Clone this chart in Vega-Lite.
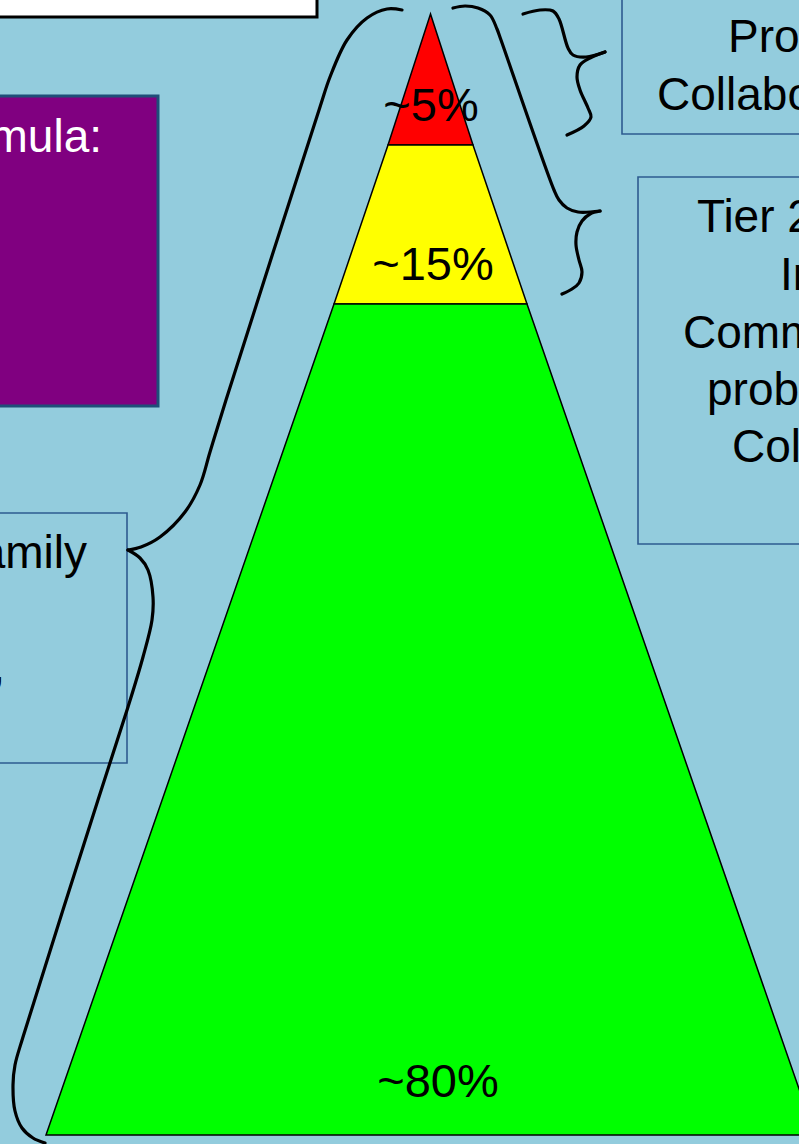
{
  "$schema": "https://vega.github.io/schema/vega-lite/v6.json",
  "width": 799,
  "height": 1144,
  "padding": 0,
  "autosize": {"type": "none"},
  "background": "#93CCDD",
  "config": {"view": {"stroke": null}},
  "datasets": {
    "boxes": [
      {"id": "white", "x1": -10, "x2": 317, "y1": -10, "y2": 17, "fill": "#FFFFFF", "stroke": "#000000", "sw": 3},
      {"id": "purple", "x1": -10, "x2": 158, "y1": 96, "y2": 406, "fill": "#800080", "stroke": "#1F4E79", "sw": 3},
      {"id": "tier1", "x1": -10, "x2": 127, "y1": 513, "y2": 763, "fill": "#93CCDD", "stroke": "#2E5B90", "sw": 1.6},
      {"id": "tier3", "x1": 622, "x2": 830, "y1": -10, "y2": 134, "fill": "#93CCDD", "stroke": "#2E5B90", "sw": 1.6},
      {"id": "tier2", "x1": 638, "x2": 830, "y1": 177, "y2": 544, "fill": "#93CCDD", "stroke": "#2E5B90", "sw": 1.6}
    ],
    "pyramid": [
      {"seg": "a_red", "y": 14, "xl": 430.5, "xr": 430.5, "fill": "#FF0000"},
      {"seg": "a_red", "y": 145, "xl": 388, "xr": 473, "fill": "#FF0000"},
      {"seg": "b_yellow", "y": 145, "xl": 388, "xr": 473, "fill": "#FFFF00"},
      {"seg": "b_yellow", "y": 304, "xl": 334, "xr": 527, "fill": "#FFFF00"},
      {"seg": "c_green", "y": 304, "xl": 334, "xr": 527, "fill": "#00FF00"},
      {"seg": "c_green", "y": 1135, "xl": 46, "xr": 815, "fill": "#00FF00"}
    ],
    "braces": [
      {"b": "b1a", "i": 0, "x": 402, "y": 10},
      {"b": "b1a", "i": 1, "x": 387, "y": 9},
      {"b": "b1a", "i": 2, "x": 367, "y": 18},
      {"b": "b1a", "i": 3, "x": 347, "y": 40},
      {"b": "b1a", "i": 4, "x": 330, "y": 77},
      {"b": "b1a", "i": 5, "x": 320, "y": 107},
      {"b": "b1a", "i": 6, "x": 226, "y": 400},
      {"b": "b1a", "i": 7, "x": 210, "y": 452},
      {"b": "b1a", "i": 8, "x": 200, "y": 485},
      {"b": "b1a", "i": 9, "x": 185, "y": 512},
      {"b": "b1a", "i": 10, "x": 160, "y": 537},
      {"b": "b1a", "i": 11, "x": 141, "y": 547},
      {"b": "b1a", "i": 12, "x": 128, "y": 550},
      {"b": "b1b", "i": 0, "x": 128, "y": 550},
      {"b": "b1b", "i": 1, "x": 140, "y": 558},
      {"b": "b1b", "i": 2, "x": 148, "y": 570},
      {"b": "b1b", "i": 3, "x": 153, "y": 597},
      {"b": "b1b", "i": 4, "x": 152, "y": 620},
      {"b": "b1b", "i": 5, "x": 143, "y": 657},
      {"b": "b1b", "i": 6, "x": 128, "y": 707},
      {"b": "b1b", "i": 7, "x": 98, "y": 800},
      {"b": "b1b", "i": 8, "x": 23, "y": 1037},
      {"b": "b1b", "i": 9, "x": 15, "y": 1065},
      {"b": "b1b", "i": 10, "x": 13, "y": 1085},
      {"b": "b1b", "i": 11, "x": 15, "y": 1111},
      {"b": "b1b", "i": 12, "x": 22, "y": 1128},
      {"b": "b1b", "i": 13, "x": 33, "y": 1138},
      {"b": "b1b", "i": 14, "x": 45, "y": 1143},
      {"b": "b2a", "i": 0, "x": 453, "y": 8},
      {"b": "b2a", "i": 1, "x": 465, "y": 6},
      {"b": "b2a", "i": 2, "x": 478, "y": 8},
      {"b": "b2a", "i": 3, "x": 490, "y": 15},
      {"b": "b2a", "i": 4, "x": 497, "y": 29},
      {"b": "b2a", "i": 5, "x": 501, "y": 40},
      {"b": "b2a", "i": 6, "x": 554, "y": 190},
      {"b": "b2a", "i": 7, "x": 559, "y": 200},
      {"b": "b2a", "i": 8, "x": 567, "y": 208},
      {"b": "b2a", "i": 9, "x": 578, "y": 212},
      {"b": "b2a", "i": 10, "x": 600, "y": 211},
      {"b": "b2b", "i": 0, "x": 600, "y": 211},
      {"b": "b2b", "i": 1, "x": 590, "y": 214},
      {"b": "b2b", "i": 2, "x": 582, "y": 221},
      {"b": "b2b", "i": 3, "x": 577, "y": 232},
      {"b": "b2b", "i": 4, "x": 576, "y": 245},
      {"b": "b2b", "i": 5, "x": 579, "y": 260},
      {"b": "b2b", "i": 6, "x": 582, "y": 272},
      {"b": "b2b", "i": 7, "x": 579, "y": 283},
      {"b": "b2b", "i": 8, "x": 572, "y": 289},
      {"b": "b2b", "i": 9, "x": 562, "y": 294},
      {"b": "b3a", "i": 0, "x": 523, "y": 14},
      {"b": "b3a", "i": 1, "x": 540, "y": 10},
      {"b": "b3a", "i": 2, "x": 553, "y": 11},
      {"b": "b3a", "i": 3, "x": 559, "y": 19},
      {"b": "b3a", "i": 4, "x": 568, "y": 48},
      {"b": "b3a", "i": 5, "x": 573, "y": 55},
      {"b": "b3a", "i": 6, "x": 586, "y": 57},
      {"b": "b3a", "i": 7, "x": 605, "y": 52},
      {"b": "b3b", "i": 0, "x": 605, "y": 52},
      {"b": "b3b", "i": 1, "x": 590, "y": 58},
      {"b": "b3b", "i": 2, "x": 580, "y": 65},
      {"b": "b3b", "i": 3, "x": 577, "y": 77},
      {"b": "b3b", "i": 4, "x": 580, "y": 90},
      {"b": "b3b", "i": 5, "x": 588, "y": 108},
      {"b": "b3b", "i": 6, "x": 591, "y": 117},
      {"b": "b3b", "i": 7, "x": 584, "y": 126},
      {"b": "b3b", "i": 8, "x": 567, "y": 135}
    ],
    "texts": [
      {"t": "~5%", "x": 431, "y": 121, "al": "center", "col": "#000000"},
      {"t": "~15%", "x": 433, "y": 280, "al": "center", "col": "#000000"},
      {"t": "~80%", "x": 438, "y": 1097, "al": "center", "col": "#000000"},
      {"t": "Formula:", "x": 102, "y": 152, "al": "right", "col": "#FFFFFF"},
      {"t": "Tier 1: Family", "x": 87, "y": 568, "al": "right", "col": "#000000"},
      {"t": "Universal", "x": -20, "y": 625, "al": "right", "col": "#000000"},
      {"t": "school,", "x": 5, "y": 682, "al": "right", "col": "#000000"},
      {"t": "Problem Solving", "x": 728, "y": 52, "al": "left", "col": "#000000"},
      {"t": "Collaboration", "x": 657, "y": 110, "al": "left", "col": "#000000"},
      {"t": "Tier 2: Targeted", "x": 697, "y": 232, "al": "left", "col": "#000000"},
      {"t": "Interventions", "x": 780, "y": 290, "al": "left", "col": "#000000"},
      {"t": "Community", "x": 683, "y": 348, "al": "left", "col": "#000000"},
      {"t": "problem solving", "x": 707, "y": 405, "al": "left", "col": "#000000"},
      {"t": "Collaboration", "x": 732, "y": 462, "al": "left", "col": "#000000"}
    ]
  },
  "layer": [
    {
      "data": {"name": "boxes"},
      "mark": {"type": "rect"},
      "encoding": {
        "x": {"field": "x1", "type": "quantitative", "scale": {"domain": [0, 799], "nice": false, "zero": false}, "axis": null},
        "x2": {"field": "x2"},
        "y": {"field": "y1", "type": "quantitative", "scale": {"domain": [0, 1144], "nice": false, "zero": false, "reverse": true}, "axis": null},
        "y2": {"field": "y2"},
        "fill": {"field": "fill", "type": "nominal", "scale": null},
        "stroke": {"field": "stroke", "type": "nominal", "scale": null},
        "strokeWidth": {"field": "sw", "type": "quantitative", "scale": null}
      }
    },
    {
      "data": {"name": "pyramid"},
      "mark": {"type": "area", "orient": "horizontal", "stroke": "#000000", "strokeWidth": 1.5, "strokeJoin": "miter"},
      "encoding": {
        "y": {"field": "y", "type": "quantitative", "scale": {"domain": [0, 1144], "nice": false, "zero": false, "reverse": true}, "axis": null},
        "x": {"field": "xl", "type": "quantitative", "stack": null, "scale": {"domain": [0, 799], "nice": false, "zero": false}, "axis": null},
        "x2": {"field": "xr"},
        "detail": {"field": "seg", "type": "nominal"},
        "fill": {"field": "fill", "type": "nominal", "scale": null}
      }
    },
    {
      "data": {"name": "braces"},
      "mark": {"type": "line", "interpolate": "catmull-rom", "stroke": "#000000", "strokeWidth": 3.2, "strokeCap": "round"},
      "encoding": {
        "x": {"field": "x", "type": "quantitative", "scale": {"domain": [0, 799], "nice": false, "zero": false}, "axis": null},
        "y": {"field": "y", "type": "quantitative", "scale": {"domain": [0, 1144], "nice": false, "zero": false, "reverse": true}, "axis": null},
        "detail": {"field": "b", "type": "nominal"},
        "order": {"field": "i", "type": "quantitative"}
      }
    },
    {
      "data": {"name": "texts"},
      "transform": [{"filter": "datum.al === 'center'"}],
      "mark": {"type": "text", "align": "center", "baseline": "alphabetic", "font": "Liberation Sans", "fontSize": 47},
      "encoding": {
        "x": {"field": "x", "type": "quantitative", "scale": {"domain": [0, 799], "nice": false, "zero": false}, "axis": null},
        "y": {"field": "y", "type": "quantitative", "scale": {"domain": [0, 1144], "nice": false, "zero": false, "reverse": true}, "axis": null},
        "text": {"field": "t"},
        "color": {"field": "col", "type": "nominal", "scale": null}
      }
    },
    {
      "data": {"name": "texts"},
      "transform": [{"filter": "datum.al === 'right'"}],
      "mark": {"type": "text", "align": "right", "baseline": "alphabetic", "font": "Liberation Sans", "fontSize": 46},
      "encoding": {
        "x": {"field": "x", "type": "quantitative", "scale": {"domain": [0, 799], "nice": false, "zero": false}, "axis": null},
        "y": {"field": "y", "type": "quantitative", "scale": {"domain": [0, 1144], "nice": false, "zero": false, "reverse": true}, "axis": null},
        "text": {"field": "t"},
        "color": {"field": "col", "type": "nominal", "scale": null}
      }
    },
    {
      "data": {"name": "texts"},
      "transform": [{"filter": "datum.al === 'left'"}],
      "mark": {"type": "text", "align": "left", "baseline": "alphabetic", "font": "Liberation Sans", "fontSize": 46},
      "encoding": {
        "x": {"field": "x", "type": "quantitative", "scale": {"domain": [0, 799], "nice": false, "zero": false}, "axis": null},
        "y": {"field": "y", "type": "quantitative", "scale": {"domain": [0, 1144], "nice": false, "zero": false, "reverse": true}, "axis": null},
        "text": {"field": "t"},
        "color": {"field": "col", "type": "nominal", "scale": null}
      }
    }
  ]
}
